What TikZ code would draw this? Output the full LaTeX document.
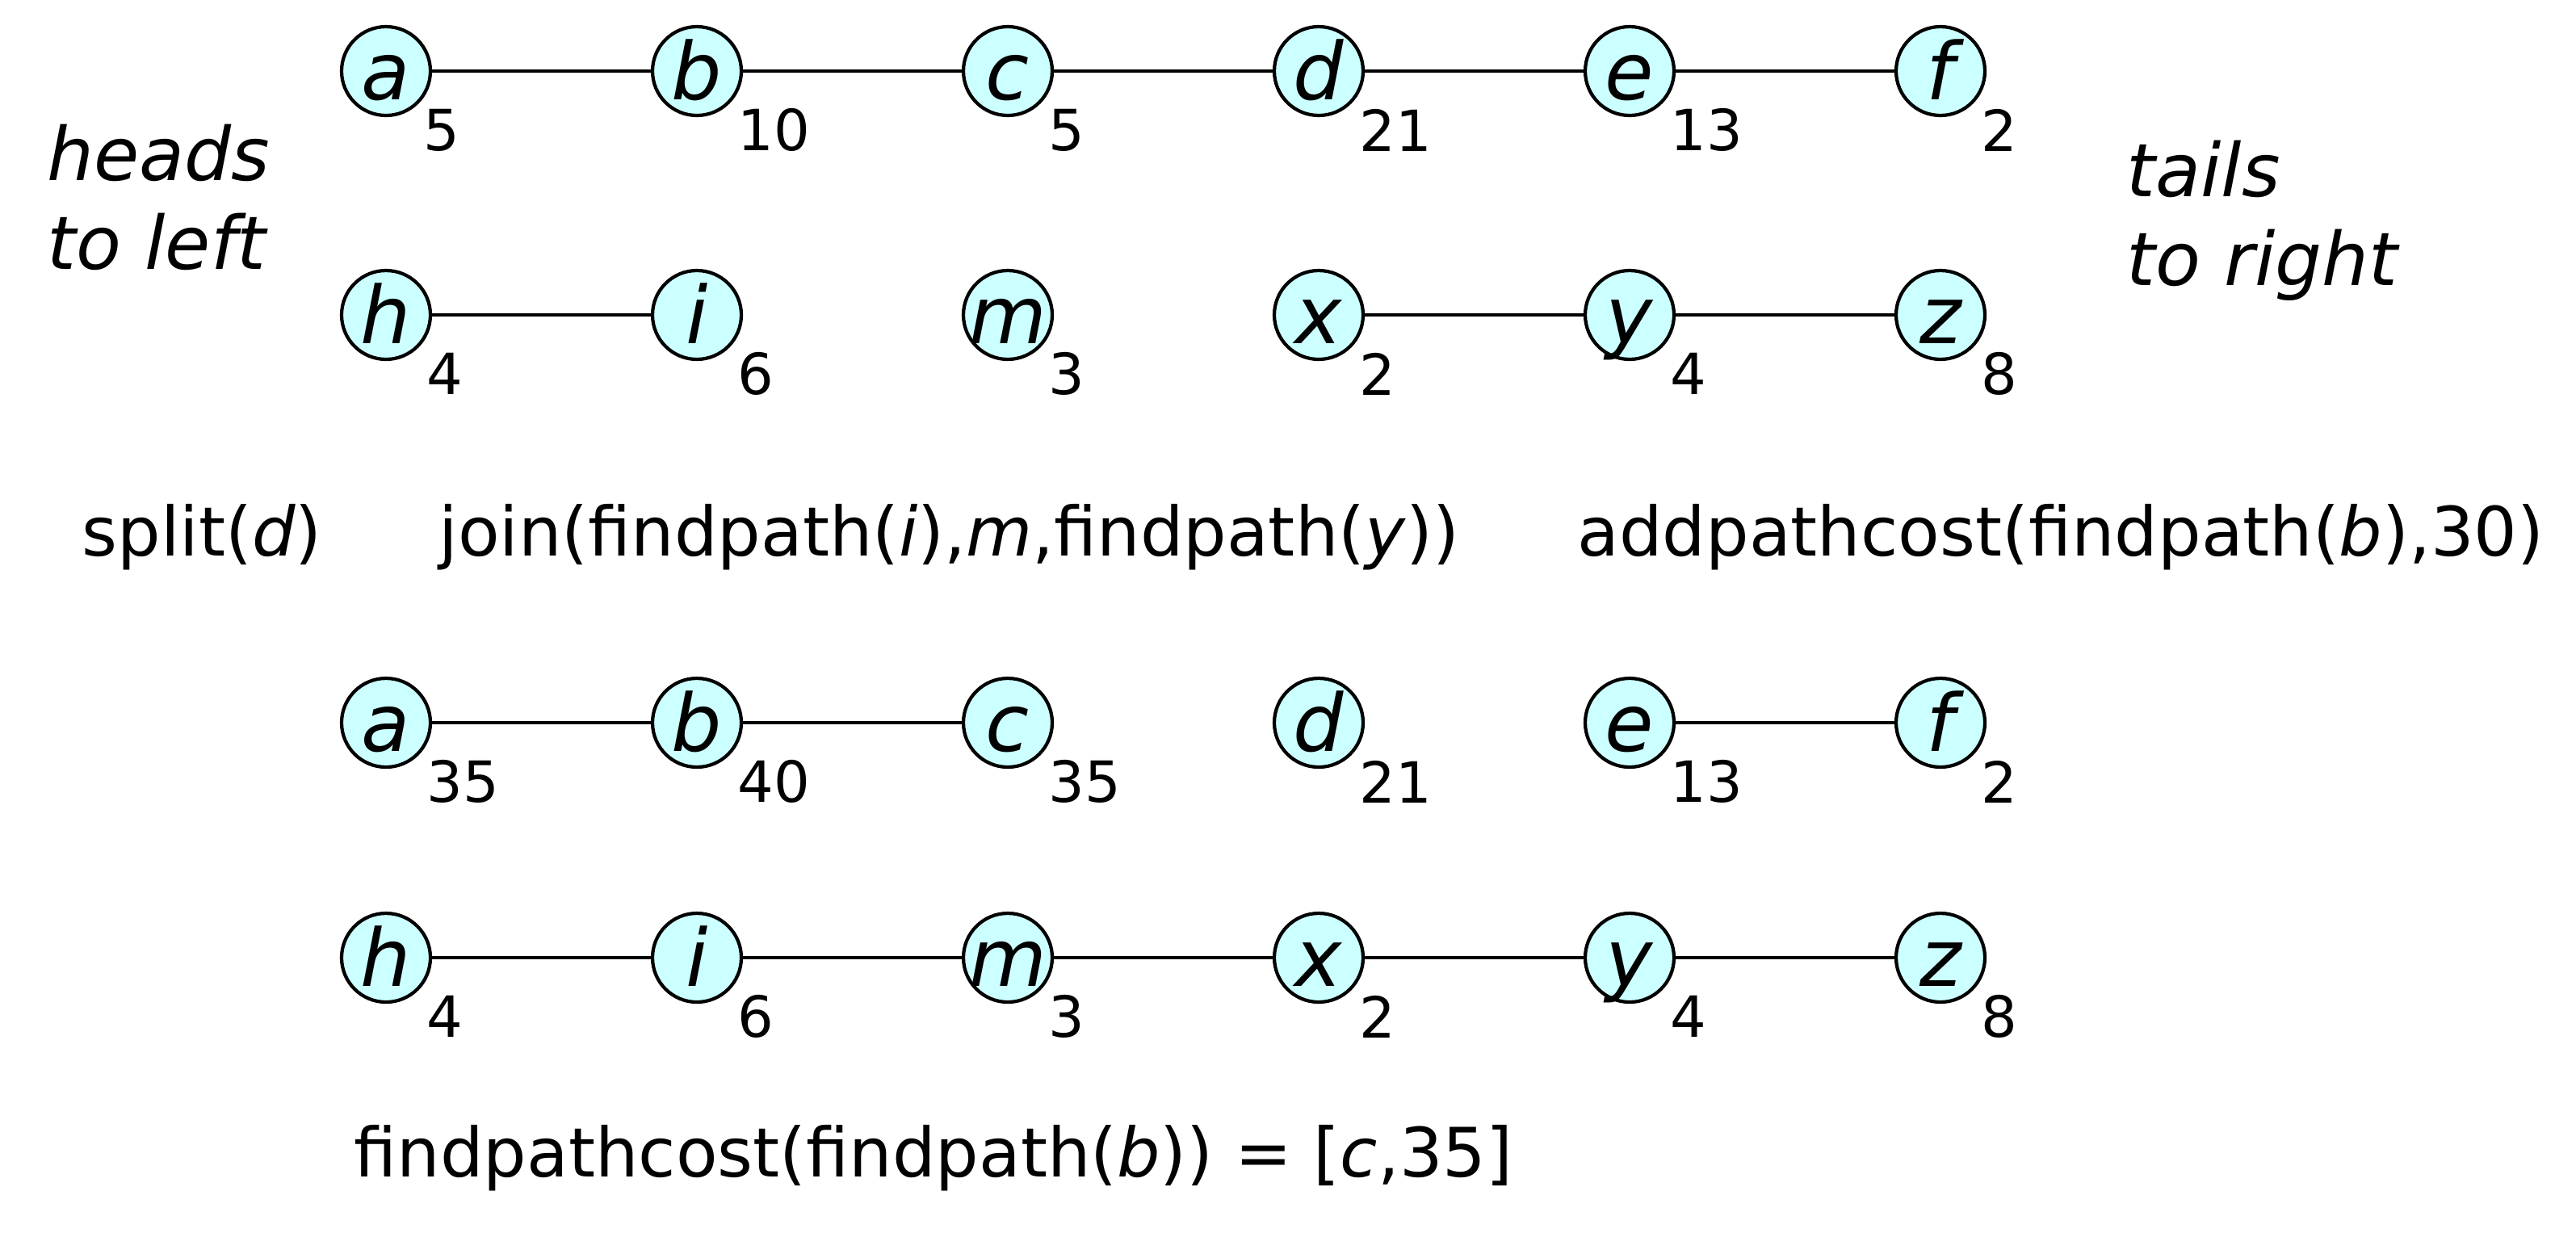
\documentclass[tikz,border=0pt]{standalone}
\usepackage{fontspec}
\setmainfont{DejaVu Sans}
\definecolor{vxfill}{HTML}{CCFFFF}
\newcommand{\vx}[1]{\makebox[0pt]{#1}}

\begin{document}
\begin{tikzpicture}
        \useasboundingbox (0,0) rectangle (31.9,-15.26);
        \begin{scope}[every node/.style={draw, circle, line width=1.2pt, fill=vxfill, minimum size=1.1cm, inner sep=0, text height=0.70cm, text depth=0pt, font=\fontsize{28}{30}\selectfont\itshape}]
            % before
            \node (a1) at (4.78,-0.88) {\vx{a}};
            \node (b1) at (8.63,-0.88) {\vx{b}};
            \node (c1) at (12.48,-0.88) {\vx{c}};
            \node (d1) at (16.33,-0.88) {\vx{d}};
            \node (e1) at (20.18,-0.88) {\vx{e}};
            \node (f1) at (24.03,-0.88) {\vx{f}};
            \node (h1) at (4.78,-3.90) {\vx{h}};
            \node (i1) at (8.63,-3.90) {\vx{i}};
            \node (m1) at (12.48,-3.90) {\vx{m}};
            \node (x1) at (16.33,-3.90) {\vx{x}};
            \node (y1) at (20.18,-3.90) {\vx{y}};
            \node (z1) at (24.03,-3.90) {\vx{z}};
            % after
            \node (a2) at (4.78,-8.95) {\vx{a}};
            \node (b2) at (8.63,-8.95) {\vx{b}};
            \node (c2) at (12.48,-8.95) {\vx{c}};
            \node (d2) at (16.33,-8.95) {\vx{d}};
            \node (e2) at (20.18,-8.95) {\vx{e}};
            \node (f2) at (24.03,-8.95) {\vx{f}};
            \node (h2) at (4.78,-11.86) {\vx{h}};
            \node (i2) at (8.63,-11.86) {\vx{i}};
            \node (m2) at (12.48,-11.86) {\vx{m}};
            \node (x2) at (16.33,-11.86) {\vx{x}};
            \node (y2) at (20.18,-11.86) {\vx{y}};
            \node (z2) at (24.03,-11.86) {\vx{z}};
        \end{scope}
        \begin{scope}[every node/.style={anchor=west, inner sep=0, font=\fontsize{20}{24}\selectfont}]
            \node (wa1) at ([shift={(0.46,-0.73)}]a1.center) {5};
            \node (wb1) at ([shift={(0.5,-0.73)}]b1.center) {10};
            \node (wc1) at ([shift={(0.5,-0.73)}]c1.center) {5};
            \node (wd1) at ([shift={(0.5,-0.73)}]d1.center) {21};
            \node (we1) at ([shift={(0.5,-0.73)}]e1.center) {13};
            \node (wf1) at ([shift={(0.5,-0.73)}]f1.center) {2};
            \node (wh1) at ([shift={(0.5,-0.73)}]h1.center) {4};
            \node (wi1) at ([shift={(0.5,-0.73)}]i1.center) {6};
            \node (wm1) at ([shift={(0.5,-0.73)}]m1.center) {3};
            \node (wx1) at ([shift={(0.5,-0.73)}]x1.center) {2};
            \node (wy1) at ([shift={(0.5,-0.73)}]y1.center) {4};
            \node (wz1) at ([shift={(0.5,-0.73)}]z1.center) {8};
            \node (wa2) at ([shift={(0.5,-0.73)}]a2.center) {35};
            \node (wb2) at ([shift={(0.5,-0.73)}]b2.center) {40};
            \node (wc2) at ([shift={(0.5,-0.73)}]c2.center) {35};
            \node (wd2) at ([shift={(0.5,-0.73)}]d2.center) {21};
            \node (we2) at ([shift={(0.5,-0.73)}]e2.center) {13};
            \node (wf2) at ([shift={(0.5,-0.73)}]f2.center) {2};
            \node (wh2) at ([shift={(0.5,-0.73)}]h2.center) {4};
            \node (wi2) at ([shift={(0.5,-0.73)}]i2.center) {6};
            \node (wm2) at ([shift={(0.5,-0.73)}]m2.center) {3};
            \node (wx2) at ([shift={(0.5,-0.73)}]x2.center) {2};
            \node (wy2) at ([shift={(0.5,-0.73)}]y2.center) {4};
            \node (wz2) at ([shift={(0.5,-0.73)}]z2.center) {8};
        \end{scope}
        \begin{scope}[every path/.style={line width=1.2pt}]
            \path (a1) edge (b1);
            \path (b1) edge (c1);
            \path (c1) edge (d1);
            \path (d1) edge (e1);
            \path (e1) edge (f1);
            \path (h1) edge (i1);
            \path (x1) edge (y1);
            \path (y1) edge (z1);
            \path (a2) edge (b2);
            \path (b2) edge (c2);
            \path (e2) edge (f2);
            \path (h2) edge (i2);
            \path (i2) edge (m2);
            \path (m2) edge (x2);
            \path (x2) edge (y2);
            \path (y2) edge (z2);
        \end{scope}
        \begin{scope}[every node/.style={anchor=base west, inner sep=0, font=\fontsize{24}{29}\selectfont}]
            \node (split) at (1.01,-6.88) {split(\textit{d})};
            \node (join) at (5.43,-6.88) {join(findpath(\textit{i}),\textit{m},findpath(\textit{y}))};
            \node (add) at (19.53,-6.88) {addpathcost(findpath(\textit{b}),30)};
            \node (cost) at (4.38,-14.57) {findpathcost(findpath(\textit{b})) = [\textit{c},35]};
            \node[align=left, font=\fontsize{26}{31.3}\selectfont\itshape] (heads) at (0.58,-3.33) {heads\\to left};
            \node[align=left, font=\fontsize{26}{31.3}\selectfont\itshape] (tails) at (26.33,-3.53) {tails\\to right};
        \end{scope}
    \end{tikzpicture}
\end{document}
